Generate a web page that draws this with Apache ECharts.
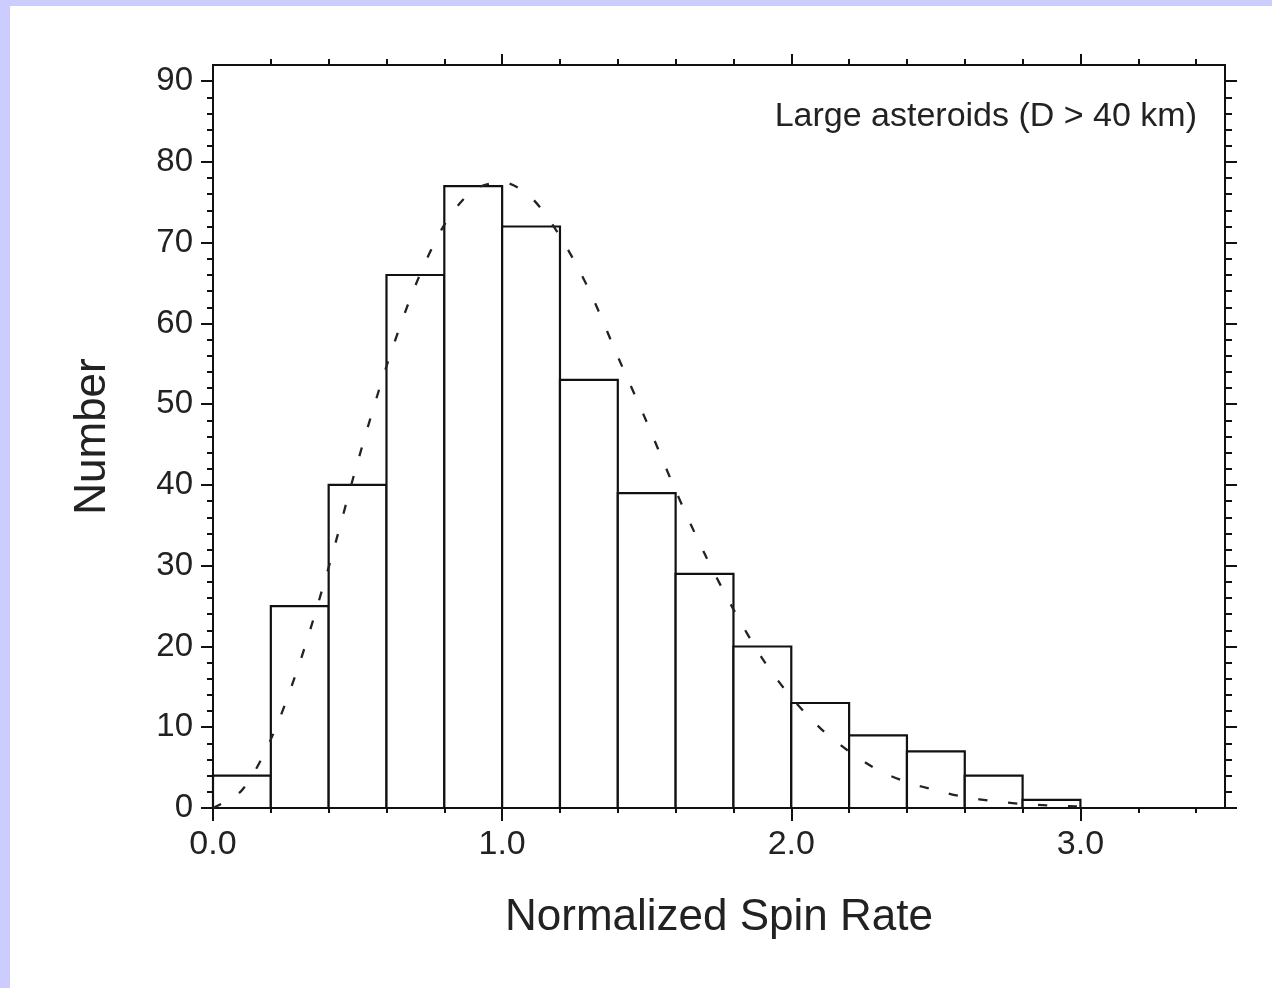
<!DOCTYPE html>
<html>
<head>
<meta charset="utf-8">
<script src="https://cdn.jsdelivr.net/npm/echarts@6/dist/echarts.min.js"></script>
<style>
  html, body { margin: 0; padding: 0; background: #ccccff; }
  #frame { position: absolute; left: 10px; top: 6px; right: 0; bottom: 0; background: #ffffff; }
  #chart { position: absolute; left: 0; top: 0; width: 1272px; height: 988px; }
</style>
</head>
<body>
<div id="frame"></div>
<div id="chart"></div>
<script>
// ---- data ----
const binLeft  = [0.0, 0.2, 0.4, 0.6, 0.8, 1.0, 1.2, 1.4, 1.6, 1.8, 2.0, 2.2, 2.4, 2.6, 2.8];
const binRight = [0.2, 0.4, 0.6, 0.8, 1.0, 1.2, 1.4, 1.6, 1.8, 2.0, 2.2, 2.4, 2.6, 2.8, 3.0];
const counts   = [4, 25, 40, 66, 77, 72, 53, 39, 29, 20, 13, 9, 7, 4, 1];

const fitX = [0.0, 0.1, 0.2, 0.3, 0.4, 0.5, 0.6, 0.7, 0.8, 0.9, 1.0, 1.1, 1.2, 1.3, 1.4, 1.5,
              1.6, 1.7, 1.8, 1.9, 2.0, 2.1, 2.2, 2.3, 2.4, 2.5, 2.6, 2.7, 2.8, 2.9, 3.0];
const fitY = [0.0, 2.2, 8.5, 18.0, 29.8, 42.8, 54.7, 64.7, 72.2, 76.5, 77.5, 75.6, 70.8, 64.2, 55.9, 47.8,
              39.3, 31.5, 24.6, 18.5, 13.7, 9.9, 7.0, 4.7, 3.2, 2.2, 1.35, 0.85, 0.5, 0.3, 0.2];

const xMajorTicks = [0, 1, 2, 3];
const xTopMajorTicks = [1, 2, 3];
const xMinorTicks = [0.2, 0.4, 0.6, 0.8, 1.2, 1.4, 1.6, 1.8, 2.2, 2.4, 2.6, 2.8, 3.2, 3.4];
const yMajorTicks = [0, 10, 20, 30, 40, 50, 60, 70, 80, 90];
const yMinorTicks = [2, 4, 6, 8, 12, 14, 16, 18, 22, 24, 26, 28, 32, 34, 36, 38, 42, 44, 46, 48,
                     52, 54, 56, 58, 62, 64, 66, 68, 72, 74, 76, 78, 82, 84, 86, 88];

const annotation = 'Large asteroids (D > 40 km)';
const xName = 'Normalized Spin Rate';
const yName = 'Number';

// ---- chart ----
const FONT = '"Liberation Sans", Arial, Helvetica, sans-serif';
const INK = '#111';
const TXT = '#222';
const X_MIN = 0, X_MAX = 3.5, Y_MIN = 0, Y_MAX = 92;

function xAxisDef(pos, ticks, len, withLabels) {
  return {
    type: 'value', position: pos, min: X_MIN, max: X_MAX,
    axisLine: { show: true, onZero: false, lineStyle: { color: INK, width: 2 } },
    axisTick: { show: true, inside: false, length: len, customValues: ticks,
                lineStyle: { color: INK, width: 2 } },
    axisLabel: withLabels ? {
      show: true, customValues: ticks, margin: 20,
      fontFamily: FONT, fontSize: 34, color: TXT,
      formatter: v => Number(v).toFixed(1)
    } : { show: false },
    splitLine: { show: false }
  };
}
function yAxisDef(pos, ticks, len, withLabels) {
  return {
    type: 'value', position: pos, min: Y_MIN, max: Y_MAX,
    axisLine: { show: true, onZero: false, lineStyle: { color: INK, width: 2 } },
    axisTick: { show: true, inside: false, length: len, customValues: ticks,
                lineStyle: { color: INK, width: 2 } },
    axisLabel: withLabels ? {
      show: true, customValues: ticks, margin: 20,
      fontFamily: FONT, fontSize: 33, color: TXT
    } : { show: false },
    splitLine: { show: false }
  };
}

const xMain = xAxisDef('bottom', xMajorTicks, 13, true);
xMain.name = xName;
xMain.nameLocation = 'middle';
xMain.nameGap = 88;
xMain.nameTextStyle = { fontFamily: FONT, fontSize: 44, color: TXT };

const yMain = yAxisDef('left', yMajorTicks, 12, true);
yMain.name = yName;
yMain.nameLocation = 'middle';
yMain.nameGap = 98;
yMain.nameTextStyle = { fontFamily: FONT, fontSize: 44, color: TXT };

const histData = binLeft.map((l, i) => [l, binRight[i], counts[i]]);
const fitData = fitX.map((x, i) => [x, fitY[i]]);

const chart = echarts.init(document.getElementById('chart'), null, { renderer: 'canvas' });
chart.setOption({
  backgroundColor: 'transparent',
  animation: false,
  title: {
    text: annotation, right: 75, top: 100, padding: 0,
    textStyle: { fontFamily: FONT, fontSize: 34, fontWeight: 'normal', color: TXT }
  },
  grid: { left: 213, right: 47, top: 65, bottom: 180, containLabel: false },
  xAxis: [
    xMain,
    xAxisDef('bottom', xMinorTicks, 5, false),
    xAxisDef('top', xTopMajorTicks, 11, false),
    xAxisDef('top', xMinorTicks, 6, false)
  ],
  yAxis: [
    yMain,
    yAxisDef('left', yMinorTicks, 6, false),
    yAxisDef('right', yMajorTicks, 12, false),
    yAxisDef('right', yMinorTicks, 7, false)
  ],
  series: [
    {
      type: 'custom',
      xAxisIndex: 0, yAxisIndex: 0,
      z: 2,
      data: histData,
      renderItem: function (params, api) {
        const p0 = api.coord([api.value(0), api.value(2)]);
        const p1 = api.coord([api.value(1), 0]);
        return {
          type: 'rect',
          shape: { x: p0[0], y: p0[1], width: p1[0] - p0[0], height: p1[1] - p0[1] },
          style: { fill: '#ffffff', stroke: INK, lineWidth: 2.2 }
        };
      }
    },
    {
      type: 'line',
      xAxisIndex: 0, yAxisIndex: 0,
      z: 5,
      data: fitData,
      smooth: 0.3,
      showSymbol: false,
      lineStyle: { color: '#222', width: 2.3, type: [9, 21] }
    }
  ]
});
</script>
</body>
</html>
